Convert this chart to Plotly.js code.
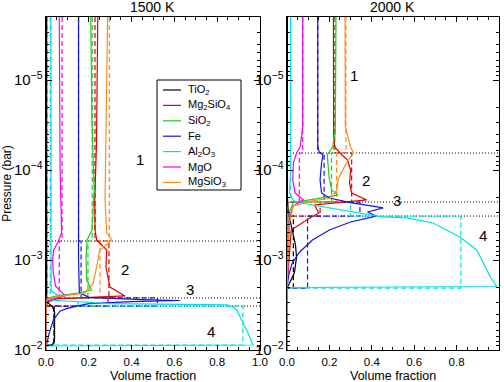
<!DOCTYPE html>
<html><head><meta charset="utf-8">
<script src="https://cdn.plot.ly/plotly-3.0.1.min.js"></script>
<style>html,body{margin:0;padding:0;background:#fff}#plot{width:504px;height:382px}</style>
</head><body><div id="plot"></div>
<script>
// ---------- data ----------
const species = ['TiO2','Mg2SiO4','SiO2','Fe','Al2O3','MgO','MgSiO3'];
const speciesLabels = ['TiO<sub>2</sub>','Mg<sub>2</sub>SiO<sub>4</sub>','SiO<sub>2</sub>','Fe','Al<sub>2</sub>O<sub>3</sub>','MgO','MgSiO<sub>3</sub>'];
const panelTitles = ['1500 K','2000 K'];
const xTitle = 'Volume fraction';
const yTitle = 'Pressure (bar)';

// layer boundaries (bar): top, 1|2, 2|3, 3|4, cloud base, bottom
const L_bounds = [2e-6, 6.15e-4, 2.64e-3, 3.25e-3, 8.8e-3, 1e-2];
const R_bounds = [2e-6, 6.47e-5, 2.27e-4, 3.25e-4, 2.05e-3, 1e-2];
const L_dotted = [6.15e-4, 2.64e-3, 3.25e-3];
const R_dotted = [6.47e-5, 2.27e-4, 3.25e-4];

// dashed (layer-averaged) volume fractions per layer, 1500 K
const L_dash_TiO2    = [0.003, 0.003, 0.003, 0.038, 0];
const L_dash_Mg2SiO4 = [0.229, 0.294, 0.29, 0, 0];
const L_dash_SiO2    = [0.216, 0.196, 0.0, 0, 0];
const L_dash_Fe      = [0.152, 0.164, 0.52, 0.037, 0];
const L_dash_Al2O3   = [0.02, 0.02, 0.15, 0.92, 0];
const L_dash_MgO     = [0.075, 0.062, 0.0, 0, 0];
const L_dash_MgSiO3  = [0.296, 0.252, 0.0, 0, 0];
// dashed, 2000 K
const R_dash_TiO2    = [0.002, 0.002, 0.002, 0.03, 0];
const R_dash_Mg2SiO4 = [0.222, 0.305, 0.156, 0, 0];
const R_dash_SiO2    = [0.226, 0.21, 0.0, 0, 0];
const R_dash_Fe      = [0.145, 0.175, 0.344, 0.097, 0];
const R_dash_Al2O3   = [0.017, 0.017, 0.3, 0.82, 0];
const R_dash_MgO     = [0.074, 0.058, 0.0, 0, 0];
const R_dash_MgSiO3  = [0.278, 0.234, 0.0, 0, 0];

// solid profiles, 1500 K
const L_TiO2_v = [0.003,0.003,0.01,0.03,0.04,0.04,0.03,0,0];
const L_TiO2_p = [2e-6,2.5e-3,3.0e-3,3.3e-3,3.8e-3,7.5e-3,8.8e-3,9.0e-3,1e-2];
const L_Mg2SiO4_v = [0.242,0.236,0.228,0.229,0.237,0.284,0.28,0.29,0.299,0.369,0.2,0.05,0.01,0,0];
const L_Mg2SiO4_p = [2e-6,5e-5,2.15e-4,4.64e-4,6.0e-4,7.74e-4,1.2e-3,1.6e-3,2.0e-3,2.51e-3,2.6e-3,2.7e-3,2.9e-3,3.3e-3,1e-2];
const L_SiO2_v = [0.209,0.215,0.225,0.215,0.192,0.187,0.19,0.213,0.15,0.05,0.01,0,0];
const L_SiO2_p = [2e-6,3e-5,1.67e-4,4.64e-4,6.0e-4,9.3e-4,1.67e-3,2.15e-3,2.33e-3,2.5e-3,2.64e-3,3.0e-3,1e-2];
const L_Fe_v = [0.152,0.152,0.156,0.2,0.45,0.626,0.4,0.2,0.16,0.1,0.065,0.035,0.015,0.003,0,0];
const L_Fe_p = [2e-6,1e-3,2.3e-3,2.6e-3,2.75e-3,2.82e-3,2.9e-3,3.05e-3,3.2e-3,3.45e-3,3.7e-3,4.6e-3,6.5e-3,8.5e-3,9.3e-3,1e-2];
const L_Al2O3_v = [0.023,0.022,0.024,0.06,0.03,0.3,0.85,0.87,0.891,0.914,0.944,0.967,0,0];
const L_Al2O3_p = [2e-6,1e-3,2.2e-3,2.5e-3,2.8e-3,3.05e-3,3.16e-3,3.3e-3,3.59e-3,4.64e-3,6.47e-3,8.8e-3,9.03e-3,1e-2];
const L_MgO_v = [0.062,0.066,0.073,0.055,0.036,0.031,0.034,0.045,0.09,0.03,0,0];
const L_MgO_p = [2e-6,1e-4,5.0e-4,6.4e-4,7.74e-4,1e-3,1.39e-3,1.95e-3,2.5e-3,2.7e-3,2.9e-3,1e-2];
const L_MgSiO3_v = [0.288,0.282,0.276,0.284,0.307,0.252,0.237,0.221,0.182,0.05,0,0];
const L_MgSiO3_p = [2e-6,3e-5,2.15e-4,5.0e-4,6.0e-4,7.74e-4,1.2e-3,1.8e-3,2.33e-3,2.55e-3,2.8e-3,1e-2];

// solid profiles, 2000 K
const R_TiO2_v = [0.002,0.002,0.006,0.025,0.04,0.045,0.035,0.01,0,0];
const R_TiO2_p = [2e-6,2.0e-4,2.93e-4,4.64e-4,6.8e-4,9.3e-4,1.39e-3,1.85e-3,2.05e-3,1e-2];
const R_Mg2SiO4_v = [0.219,0.22,0.225,0.25,0.285,0.3,0.295,0.305,0.376,0.24,0.13,0.15,0.1,0.02,0.01,0,0];
const R_Mg2SiO4_p = [2e-6,3.88e-5,5.55e-5,6.47e-5,7.74e-5,1e-4,1.39e-4,1.8e-4,2.15e-4,2.3e-4,2.45e-4,3.0e-4,3.5e-4,4.64e-4,1e-3,2.05e-3,1e-2];
const R_SiO2_v = [0.231,0.228,0.215,0.19,0.199,0.211,0.24,0.12,0.03,0.01,0.005,0,0];
const R_SiO2_p = [2e-6,3.88e-5,5.55e-5,6.81e-5,1.23e-4,1.67e-4,1.9e-4,2.1e-4,2.3e-4,3e-4,1e-3,2.05e-3,1e-2];
const R_Fe_v = [0.145,0.145,0.152,0.17,0.163,0.156,0.163,0.2,0.3,0.454,0.38,0.42,0.3,0.2,0.12,0.06,0.025,0.008,0,0];
const R_Fe_p = [2e-6,5.55e-5,6.31e-5,6.81e-5,8.36e-5,1.29e-4,1.8e-4,2.05e-4,2.3e-4,2.64e-4,2.93e-4,3.25e-4,3.78e-4,4.64e-4,5.99e-4,8.15e-4,1.08e-3,1.47e-3,2.0e-3,1e-2];
const R_Al2O3_v = [0.017,0.017,0.012,0.03,0.1,0.23,0.35,0.44,0.565,0.689,0.816,0.895,0.926,0.958,0.99,0,0];
const R_Al2O3_p = [2e-6,1e-4,1.8e-4,2.2e-4,2.4e-4,2.7e-4,3.0e-4,3.3e-4,3.41e-4,3.88e-4,5.55e-4,7.74e-4,1.08e-3,1.53e-3,1.97e-3,2.02e-3,1e-2];
const R_MgO_v = [0.074,0.074,0.062,0.045,0.03,0.027,0.038,0.077,0.03,0.01,0.005,0,0];
const R_MgO_p = [2e-6,3.33e-5,5.55e-5,6.47e-5,8.36e-5,1.29e-4,1.8e-4,2.15e-4,2.5e-4,3.5e-4,1e-3,2.05e-3,1e-2];
const R_MgSiO3_v = [0.274,0.275,0.3,0.313,0.28,0.242,0.235,0.21,0.12,0.03,0.01,0,0];
const R_MgSiO3_p = [2e-6,3.33e-5,5.55e-5,6.47e-5,8.36e-5,1.26e-4,1.67e-4,2.05e-4,2.2e-4,2.5e-4,4e-4,2.05e-3,1e-2];

// layer number labels: [volume fraction, pressure]
const L_labels = {text:['1','2','3','4'], v:[0.44,0.37,0.673,0.771], p:[7.7e-5,1.29e-3,2.15e-3,6.3e-3]};
const R_labels = {text:['1','2','3','4'], v:[0.316,0.373,0.519,0.925], p:[9.0e-6,1.32e-4,2.2e-4,5.4e-4]};

// ---------- styling ----------
const colors = {TiO2:'#000000', Mg2SiO4:'#e00000', SiO2:'#22cc22', Fe:'#1515e0', Al2O3:'#00e0e8', MgO:'#f000f0', MgSiO3:'#ff8c1a'};
const FONT = 'Liberation Sans, Arial, Helvetica, sans-serif';
const W = 504, H = 382, M = {l:46, r:5, t:17, b:32};
const px2paperX = px => (px - M.l) / (W - M.l - M.r);
const px2paperY = py => (H - M.b - py) / (H - M.t - M.b);

const solids = {
  L: {TiO2:[L_TiO2_v,L_TiO2_p], Mg2SiO4:[L_Mg2SiO4_v,L_Mg2SiO4_p], SiO2:[L_SiO2_v,L_SiO2_p], Fe:[L_Fe_v,L_Fe_p], Al2O3:[L_Al2O3_v,L_Al2O3_p], MgO:[L_MgO_v,L_MgO_p], MgSiO3:[L_MgSiO3_v,L_MgSiO3_p]},
  R: {TiO2:[R_TiO2_v,R_TiO2_p], Mg2SiO4:[R_Mg2SiO4_v,R_Mg2SiO4_p], SiO2:[R_SiO2_v,R_SiO2_p], Fe:[R_Fe_v,R_Fe_p], Al2O3:[R_Al2O3_v,R_Al2O3_p], MgO:[R_MgO_v,R_MgO_p], MgSiO3:[R_MgSiO3_v,R_MgSiO3_p]}
};
const dashes = {
  L: {TiO2:L_dash_TiO2, Mg2SiO4:L_dash_Mg2SiO4, SiO2:L_dash_SiO2, Fe:L_dash_Fe, Al2O3:L_dash_Al2O3, MgO:L_dash_MgO, MgSiO3:L_dash_MgSiO3},
  R: {TiO2:R_dash_TiO2, Mg2SiO4:R_dash_Mg2SiO4, SiO2:R_dash_SiO2, Fe:R_dash_Fe, Al2O3:R_dash_Al2O3, MgO:R_dash_MgO, MgSiO3:R_dash_MgSiO3}
};
const bounds = {L:L_bounds, R:R_bounds};
const dotted = {L:L_dotted, R:R_dotted};

const traces = [];
['L','R'].forEach((pan, pi) => {
  const xa = pi === 0 ? 'x' : 'x2', ya = pi === 0 ? 'y' : 'y2';
  dotted[pan].forEach(p => traces.push({x:[0,1], y:[p,p], xaxis:xa, yaxis:ya, mode:'lines',
    line:{color:'#000', width:1, dash:'1px,2px'}, showlegend:false, hoverinfo:'skip'}));
  species.forEach((s) => {
    const dv = dashes[pan][s];
    traces.push({x: dv.concat([dv[dv.length-1]]), y: bounds[pan], xaxis:xa, yaxis:ya, mode:'lines',
      line:{color:colors[s], width:1.2, dash:'5px,3px', shape:'vh'}, showlegend:false, hoverinfo:'skip'});
  });
  species.forEach((s, si) => {
    const d = solids[pan][s];
    traces.push({x:d[0], y:d[1], xaxis:xa, yaxis:ya, mode:'lines', name:speciesLabels[si],
      line:{color:colors[s], width:1.2}, showlegend:false, hoverinfo:'skip'});
  });
});

function xAxis(domain, anchor){
  return {domain:domain, anchor:anchor, range:[0,1], dtick:0.2, tick0:0, tickformat:'.1f',
    ticks:'inside', ticklen:5, tickwidth:1, tickcolor:'#000', mirror:'allticks', showline:true,
    linecolor:'#000', linewidth:1, showgrid:false, zeroline:false, ticklabelstandoff:1,
    minor:{dtick:0.05, ticks:'inside', ticklen:3, tickcolor:'#000', showgrid:false},
    tickfont:{size:11.5, color:'#000'}, automargin:false};
}
function yAxis(anchor, withTitle){
  const a = {anchor:anchor, type:'log', range:[-2,-5.7], tickmode:'linear', tick0:0, dtick:1,
    exponentformat:'power', showexponent:'all',
    ticks:'inside', ticklen:6, tickwidth:1, tickcolor:'#000', mirror:'allticks', showline:true,
    linecolor:'#000', linewidth:1, showgrid:false, zeroline:false,
    minor:{dtick:'D1', ticks:'inside', ticklen:3, tickcolor:'#000', showgrid:false},
    tickfont:{size:12, color:'#000'}, automargin:false, domain:[0,1]};
  if (withTitle) a.title = {text:yTitle, font:{size:12,color:'#000'}, standoff:4};
  return a;
}

const annotations = [];
const shapes = [];
panelTitles.forEach((t, i) => {
  annotations.push({text:t, xref: i===0?'x domain':'x2 domain', x:0.5,
    yref:'paper', y:1, yanchor:'bottom', xanchor:'center', showarrow:false, font:{size:14, color:'#000'}});
  annotations.push({text:xTitle, xref: i===0?'x domain':'x2 domain', x:0.5, borderpad:0,
    yref:'paper', y:px2paperY(384), yanchor:'bottom', xanchor:'center', showarrow:false, font:{size:12.5, color:'#000'}});
});
[[L_labels,'x','y'],[R_labels,'x2','y2']].forEach(([lab,xr,yr]) => {
  lab.text.forEach((t,i) => annotations.push({text:t, xref:xr, yref:yr, x:lab.v[i], y:Math.log10(lab.p[i]),
    showarrow:false, font:{size:15, color:'#000'}}));
});

// legend box (drawn as paper shapes + text)
const LEG = {left:157, right:241, top:80, bottom:190, firstRow:90, rowStep:15.4, lineX0:163, lineX1:181, textX:186};
shapes.push({type:'rect', xref:'paper', yref:'paper', x0:px2paperX(LEG.left), x1:px2paperX(LEG.right),
  y0:px2paperY(LEG.bottom), y1:px2paperY(LEG.top), line:{color:'#000', width:1}, fillcolor:'#fff', layer:'above'});
species.forEach((s, i) => {
  const yy = px2paperY(LEG.firstRow + i*LEG.rowStep);
  shapes.push({type:'line', xref:'paper', yref:'paper', x0:px2paperX(LEG.lineX0), x1:px2paperX(LEG.lineX1),
    y0:yy, y1:yy, line:{color:colors[s], width:1.2}, layer:'above'});
  annotations.push({text:speciesLabels[i], xref:'paper', yref:'paper', x:px2paperX(LEG.textX), y:yy,
    xanchor:'left', yanchor:'middle', showarrow:false, font:{size:11, color:'#000'}});
});

const layout = {
  width:W, height:H, margin:M,
  paper_bgcolor:'#fff', plot_bgcolor:'#fff', font:{family:FONT, color:'#000'},
  xaxis: xAxis([0, 0.4724], 'y'),
  xaxis2: xAxis([0.532, 1], 'y2'),
  yaxis: yAxis('x', true),
  yaxis2: yAxis('x2', false),
  showlegend:false,
  annotations: annotations,
  shapes: shapes,
  hovermode:false
};
Plotly.newPlot('plot', traces, layout, {staticPlot:true, displayModeBar:false});
</script></body></html>
